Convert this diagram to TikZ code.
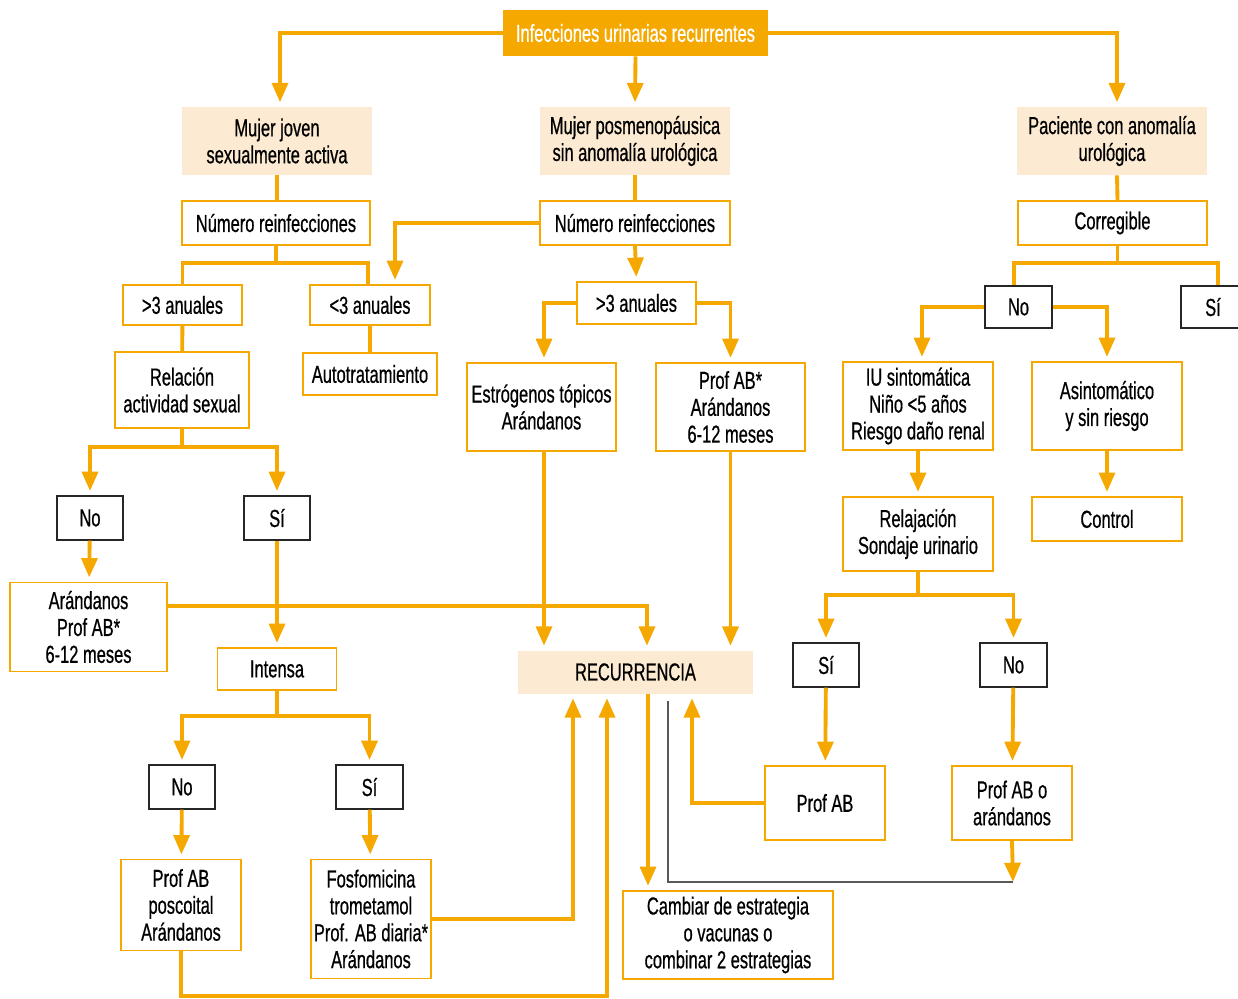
\documentclass[tikz,border=0pt]{standalone}
\usepackage{fontspec}
\setmainfont{Liberation Sans}[FakeStretch=0.67,FakeBold=0.6]
\usetikzlibrary{arrows.meta}
\definecolor{naranja}{HTML}{F5A800}
\definecolor{crema}{HTML}{FCEBD2}
\tikzset{
  caja/.style={draw=naranja,line width=0.8pt,fill=white,align=center,inner sep=0pt},
  cabeza/.style={fill=crema,align=center,inner sep=0pt},
  sino/.style={draw=black!85,line width=0.7pt,fill=white,align=center,inner sep=0pt},
  linea/.style={draw=naranja,line width=2.2pt},
  flecha/.style={linea,-{Triangle[width=9pt,length=11pt]},shorten >=2.5pt},
  fina/.style={draw=black!65,line width=0.7pt}
}
\begin{document}
\begin{tikzpicture}[x=0.02cm,y=-0.02cm,font=\fontsize{14pt}{15.3pt}\selectfont]
\useasboundingbox (0,0) rectangle (1238,998);
% niveles superiores
\node (top) at (635.5,33) [fill=naranja,text=white,minimum width=5.3cm,minimum height=0.92cm] {Infecciones urinarias recurrentes};
\node (mj) at (277,141) [cabeza,minimum width=3.8cm,minimum height=1.36cm] {Mujer joven\\sexualmente activa};
\node (mp) at (635,141) [cabeza,minimum width=3.8cm,minimum height=1.36cm] {Mujer posmenopáusica\\sin anomalía urológica};
\node (pa) at (1112,141) [cabeza,minimum width=3.8cm,minimum height=1.36cm] {Paciente con anomalía\\urológica};
\node (nl) at (276,223) [caja,minimum width=3.76cm,minimum height=0.88cm] {Número reinfecciones};
\node (nm) at (635,223) [caja,minimum width=3.8cm,minimum height=0.88cm] {Número reinfecciones};
\node (co) at (1112.5,223) [caja,minimum width=3.78cm,minimum height=0.88cm] {Corregible};
\node (gl) at (182.5,305) [caja,minimum width=2.38cm,minimum height=0.8cm] {>3 anuales};
\node (ll) at (370,305) [caja,minimum width=2.4cm,minimum height=0.8cm] {<3 anuales};
\node (gm) at (636.5,303) [caja,minimum width=2.38cm,minimum height=0.84cm] {>3 anuales};
\node (nr) at (1018.5,307) [sino,minimum width=1.34cm,minimum height=0.84cm] {No};
\node (sr) at (1213,307) [sino,minimum width=1.28cm,minimum height=0.84cm] {Sí};
% segundo bloque
\node (re) at (182,390) [caja,minimum width=2.68cm,minimum height=1.52cm] {Relación\\actividad sexual};
\node (au) at (370,374) [caja,minimum width=2.68cm,minimum height=0.84cm] {Autotratamiento};
\node (es) at (541.5,407) [caja,minimum width=2.98cm,minimum height=1.76cm] {Estrógenos tópicos\\Arándanos};
\node (pf) at (730.5,407) [caja,minimum width=2.98cm,minimum height=1.76cm] {Prof AB*\\Arándanos\\6-12 meses};
\node (iu) at (918,406) [caja,minimum width=3cm,minimum height=1.76cm] {IU sintomática\\Niño <5 años\\Riesgo daño renal};
\node (as) at (1107,406) [caja,minimum width=3cm,minimum height=1.76cm] {Asintomático\\y sin riesgo};
\node (nol) at (90,518) [sino,minimum width=1.32cm,minimum height=0.88cm] {No};
\node (sil) at (277,518) [sino,minimum width=1.32cm,minimum height=0.88cm] {Sí};
\node (rj) at (918,534) [caja,minimum width=3cm,minimum height=1.48cm] {Relajación\\Sondaje urinario};
\node (ct) at (1107,519) [caja,minimum width=3cm,minimum height=0.88cm] {Control};
\node (ar) at (88.5,627) [caja,minimum width=3.14cm,minimum height=1.78cm] {Arándanos\\Prof AB*\\6-12 meses};
\node (in) at (277,669) [caja,minimum width=2.38cm,minimum height=0.84cm] {Intensa};
\node (rc) at (635.5,672) [cabeza,minimum width=4.7cm,minimum height=0.86cm] {RECURRENCIA};
\node (sim) at (826,665) [sino,minimum width=1.32cm,minimum height=0.88cm] {Sí};
\node (nom) at (1013.5,665) [sino,minimum width=1.34cm,minimum height=0.88cm] {No};
% parte baja
\node (noll) at (182,787) [sino,minimum width=1.32cm,minimum height=0.88cm] {No};
\node (sill) at (369.5,787) [sino,minimum width=1.34cm,minimum height=0.88cm] {Sí};
\node (pb) at (825,803) [caja,minimum width=2.4cm,minimum height=1.48cm] {Prof AB};
\node (po) at (1012,803) [caja,minimum width=2.4cm,minimum height=1.48cm] {Prof AB o\\arándanos};
\node (pp) at (181,905) [caja,minimum width=2.4cm,minimum height=1.82cm] {Prof AB\\poscoital\\Arándanos};
\node (fo) at (371,919) [caja,minimum width=2.4cm,minimum height=2.38cm] {Fosfomicina\\trometamol\\Prof. AB diaria*\\Arándanos};
\node (ce) at (728,935) [caja,minimum width=4.2cm,minimum height=1.76cm] {Cambiar de estrategia\\o vacunas o\\combinar 2 estrategias};
\coordinate (gend) at (1013,882);
% conexiones
\draw[flecha] (top.west) -| ([xshift=0.06cm]mj.north);
\draw[flecha] (top.south) -- (mp.north);
\draw[flecha] (top.east) -| ([xshift=0.1cm]pa.north);
\draw[linea] (mj) -- (mj |- nl.north);
\draw[linea] (mp) -- (nm);
\draw[linea] ([xshift=0.1cm]pa.south) -- ([xshift=0.1cm]co.north);
\draw[linea] (nl.south) -- ++(0,17) coordinate (b1) -| (gl.north);
\draw[linea] (b1) -| ([xshift=-0.04cm]ll.north);
\draw[flecha] (nm.west) -| ([xshift=0.5cm]ll.north);
\draw[flecha] (nm.south) -- (gm.north);
\draw[flecha] (gm.west) -| ([xshift=0.05cm]es.north);
\draw[flecha] (gm.east) -| (pf.north);
\draw[linea] (gl) -- (re);
\draw[linea] (ll) -- (au);
\draw[linea] ([xshift=0.1cm]co.south) -- ++(0,17) coordinate (b4) -| ([xshift=-0.09cm]nr.north);
\draw[linea] (b4) -| ([xshift=0.1cm]sr.north);
\draw[flecha] (nr.west) -| ([xshift=0.08cm]iu.north);
\draw[flecha] (nr.east) -| (as.north);
\draw[flecha] (iu) -- (rj);
\draw[flecha] (as) -- (ct);
\draw[linea] (re.south) -- ++(0,18) coordinate (b2);
\draw[flecha] (b2) -| (nol.north);
\draw[flecha] (b2) -| (sil.north);
\draw[flecha] (nol) -- (ar);
\draw[flecha] (sil) -- (in);
\draw[flecha] ([yshift=0.42cm]ar.east) -| ([xshift=0.23cm]rc.north);
\draw[flecha] ([xshift=0.05cm]es.south) -- ([xshift=0.05cm]es.south |- rc.north);
\draw[flecha] (pf.south) -- (pf.south |- rc.north);
\draw[linea] (rj.south) -- ++(0,23) coordinate (b5);
\draw[flecha] (b5) -| (sim.north);
\draw[flecha] (b5) -| (nom.north);
\draw[flecha] (sim) -- (pb);
\draw[flecha] (nom) -- (po);
\draw[linea] (in.south) -- ++(0,25) coordinate (b3);
\draw[flecha] (b3) -| (noll.north);
\draw[flecha] (b3) -| (sill.north);
\draw[flecha] (noll) -- (pp);
\draw[flecha] (sill) -- (fo);
\draw[flecha] (fo.east) -| ([xshift=-1.25cm]rc.south);
\draw[flecha] (pp.south) -- ++(0,45) -| ([xshift=-0.57cm]rc.south);
\draw[flecha] ([xshift=0.25cm]rc.south) -- ([xshift=0.25cm]rc.south |- ce.north);
\draw[flecha] (pb.west) -| ([xshift=1.13cm]rc.south);
\draw[fina] ([xshift=0.65cm,yshift=-0.14cm]rc.south) |- (gend);
\draw[flecha,shorten >=0pt] (po.south) -- (gend);
\end{tikzpicture}
\end{document}
